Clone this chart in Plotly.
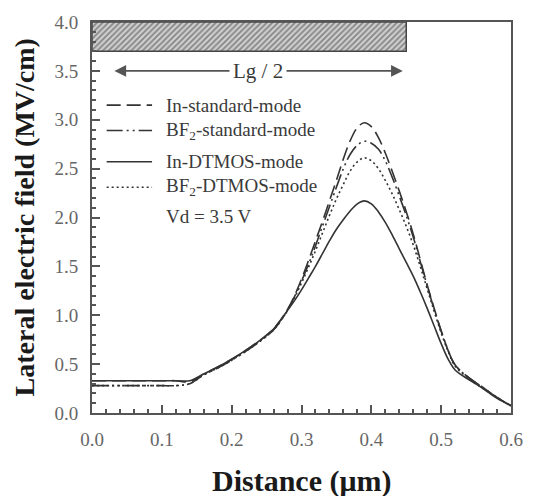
import plotly.graph_objects as go

# Distance along the channel (um)
distance = [0.00, 0.05, 0.10, 0.12, 0.14, 0.16, 0.18, 0.20, 0.22, 0.24,
            0.26, 0.27, 0.28, 0.29, 0.30, 0.31, 0.32, 0.33, 0.34, 0.35,
            0.36, 0.37, 0.38, 0.39, 0.40, 0.41, 0.42, 0.43, 0.44, 0.45,
            0.46, 0.47, 0.48, 0.49, 0.50, 0.51, 0.52, 0.54, 0.56, 0.58, 0.60]

# Lateral electric field (MV/cm) for each device mode
in_standard = [0.33, 0.33, 0.33, 0.33, 0.32, 0.40, 0.47, 0.55, 0.64, 0.74,
               0.86, 0.95, 1.06, 1.20, 1.37, 1.56, 1.76, 1.96, 2.17, 2.38,
               2.60, 2.79, 2.92, 2.97, 2.93, 2.82, 2.66, 2.47, 2.27, 2.06,
               1.83, 1.57, 1.31, 1.07, 0.84, 0.64, 0.49, 0.36, 0.26, 0.16, 0.07]
bf2_standard = [0.28, 0.28, 0.28, 0.28, 0.30, 0.39, 0.46, 0.54, 0.63, 0.73,
                0.85, 0.94, 1.05, 1.19, 1.35, 1.52, 1.71, 1.91, 2.11, 2.31,
                2.50, 2.65, 2.74, 2.78, 2.76, 2.70, 2.58, 2.41, 2.22, 2.02,
                1.80, 1.55, 1.30, 1.06, 0.84, 0.64, 0.49, 0.36, 0.26, 0.16, 0.07]
in_dtmos = [0.33, 0.33, 0.33, 0.33, 0.33, 0.40, 0.47, 0.55, 0.64, 0.74,
            0.86, 0.95, 1.05, 1.15, 1.26, 1.38, 1.50, 1.63, 1.76, 1.88,
            1.98, 2.07, 2.14, 2.17, 2.14, 2.06, 1.95, 1.82, 1.68, 1.54,
            1.40, 1.24, 1.07, 0.89, 0.71, 0.55, 0.44, 0.34, 0.25, 0.15, 0.08]
bf2_dtmos = [0.28, 0.28, 0.28, 0.28, 0.30, 0.39, 0.46, 0.54, 0.63, 0.73,
             0.85, 0.94, 1.05, 1.18, 1.33, 1.49, 1.66, 1.84, 2.02, 2.19,
             2.34, 2.48, 2.57, 2.61, 2.58, 2.50, 2.38, 2.24, 2.08, 1.91,
             1.72, 1.50, 1.27, 1.04, 0.82, 0.63, 0.48, 0.35, 0.25, 0.16, 0.07]

series_names = ["In-standard-mode", "BF<sub>2</sub>-standard-mode",
                "In-DTMOS-mode", "BF<sub>2</sub>-DTMOS-mode"]
series_values = [in_standard, bf2_standard, in_dtmos, bf2_dtmos]
series_dash = ["14px,6px", "16px,4px,2px,4px,2px,4px", "solid", "2px,3px"]

# Gate region (hatched) and the Lg/2 span
gate_x = [0.0, 0.45]
gate_y = [3.7, 4.0]
span_x = [0.03, 0.445]
span_y = 3.5

# Legend rows drawn inside the axes
legend_x = [0.021, 0.086]
legend_text_x = 0.103
legend_y = [3.15, 2.89, 2.57, 2.31]
note_y = 2.01

serif = "Liberation Serif"
line_color = "#333333"
axis_color = "#555555"

fig = go.Figure()

# hatched gate region
fig.add_trace(go.Scatter(
    x=[gate_x[0], gate_x[1], gate_x[1], gate_x[0], gate_x[0]],
    y=[gate_y[0], gate_y[0], gate_y[1], gate_y[1], gate_y[0]],
    mode="lines", fill="toself", fillcolor="#c8c8c8",
    fillpattern=dict(shape="/", fgcolor="#3a3a3a", bgcolor="#cfcfcf", size=4, solidity=0.45),
    line=dict(color="#444444", width=1.5), showlegend=False, hoverinfo="skip"))

for name, vals, dash in zip(series_names, series_values, series_dash):
    fig.add_trace(go.Scatter(x=distance, y=vals, mode="lines", name=name,
                             line=dict(color=line_color, width=1.6, dash=dash,
                                       shape="spline", smoothing=1.0),
                             showlegend=False))

# in-plot legend
for name, ly, dash in zip(series_names, legend_y, series_dash):
    fig.add_trace(go.Scatter(x=legend_x, y=[ly, ly], mode="lines",
                             line=dict(color=line_color, width=1.6, dash=dash),
                             showlegend=False, hoverinfo="skip"))
    fig.add_annotation(x=legend_text_x, y=ly, text=name, showarrow=False,
                       xanchor="left", yanchor="middle",
                       font=dict(family=serif, size=19, color="#3a3a3a"))

fig.add_annotation(x=legend_text_x, y=note_y, text="Vd = 3.5 V", showarrow=False,
                   xanchor="left", yanchor="middle",
                   font=dict(family=serif, size=19, color="#3a3a3a"))

# double-headed Lg/2 arrow
fig.add_annotation(x=span_x[1], y=span_y, ax=span_x[0], ay=span_y,
                   xref="x", yref="y", axref="x", ayref="y",
                   text="", showarrow=True, arrowhead=2, startarrowhead=2,
                   arrowside="end+start", arrowsize=1.3, arrowwidth=1.8,
                   arrowcolor="#555555")
fig.add_annotation(x=(span_x[0] + span_x[1]) / 2, y=span_y, text="Lg / 2",
                   showarrow=False, bgcolor="white", borderpad=3,
                   font=dict(family=serif, size=21, color="#3a3a3a"))

# axis titles
fig.add_annotation(xref="paper", yref="paper", x=0.5, y=-0.175,
                   text="<b>Distance (μm)</b>", showarrow=False,
                   xanchor="center", yanchor="middle",
                   font=dict(family=serif, size=30, color="#1a1a1a"))
fig.add_annotation(xref="paper", yref="paper", x=-0.16, y=0.5,
                   text="<b>Lateral electric field (MV/cm)</b>", showarrow=False,
                   textangle=-90, xanchor="center", yanchor="middle",
                   font=dict(family=serif, size=28, color="#1a1a1a"))

axis_common = dict(
    showline=True, linecolor=axis_color, linewidth=2, mirror=True,
    ticks="inside", ticklen=8, tickwidth=1.5, tickcolor=axis_color,
    showgrid=False, zeroline=False,
    tickfont=dict(family=serif, size=19, color="#666666"),
    tickformat=".1f", ticklabelstandoff=8,
)

fig.update_xaxes(range=[0, 0.6], dtick=0.1,
                 minor=dict(dtick=0.02, ticks="inside", ticklen=4, tickcolor=axis_color),
                 **axis_common)
fig.update_yaxes(range=[0, 4.0], dtick=0.5,
                 minor=dict(dtick=0.1, ticks="inside", ticklen=4, tickcolor=axis_color),
                 **axis_common)

fig.update_layout(
    width=535, height=496,
    margin=dict(l=92, r=18, t=19, b=83),
    paper_bgcolor="white", plot_bgcolor="white",
    showlegend=False,
)

fig.write_html("out.html")
